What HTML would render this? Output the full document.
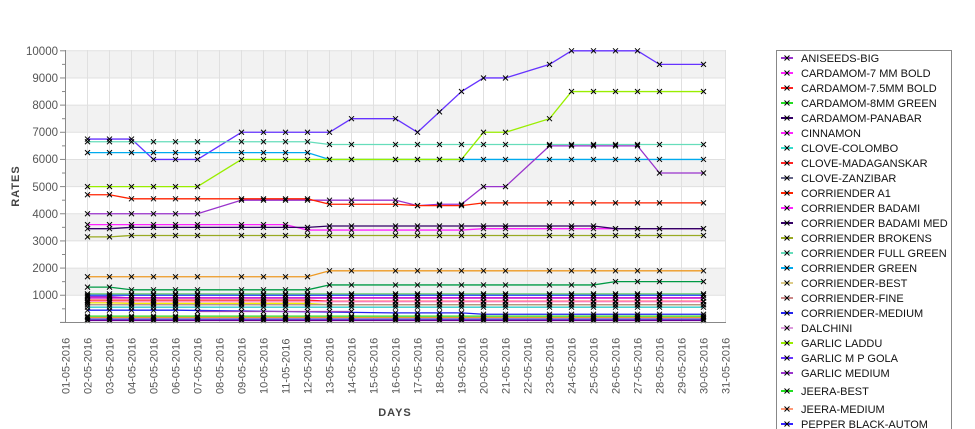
<!DOCTYPE html>
<html><head><meta charset="utf-8"><style>
html,body{margin:0;padding:0;background:#fff;width:975px;height:429px;overflow:hidden}
svg{display:block;font-family:"Liberation Sans","DejaVu Sans",sans-serif}
</style></head><body>
<svg id="s" width="975" height="429" viewBox="0 0 975 429" xmlns="http://www.w3.org/2000/svg">
<g id="bands"></g>
<g id="grid"></g>
<g id="lines"></g>
<g id="marks"></g>
<line x1="65.5" y1="50" x2="65.5" y2="323" stroke="#888"/>
<line x1="60" y1="322.5" x2="726" y2="322.5" stroke="#888"/>
<g font-size="11.5" fill="#555" text-anchor="end">
<text x="58" y="55">10000</text><text x="58" y="82">9000</text><text x="58" y="109">8000</text>
<text x="58" y="136">7000</text><text x="58" y="163">6000</text><text x="58" y="191">5000</text>
<text x="58" y="218">4000</text><text x="58" y="245">3000</text><text x="58" y="272">2000</text>
<text x="58" y="299">1000</text>
</g>
<text transform="translate(19,186) rotate(-90)" font-size="11" font-weight="bold" fill="#444" text-anchor="middle" letter-spacing="1">RATES</text>
<text x="395" y="416" font-size="11" font-weight="bold" fill="#444" text-anchor="middle" letter-spacing="1">DAYS</text>
<g font-size="11" fill="#555">
<text transform="translate(69.5,394) rotate(-90)">01-05-2016</text>
<text transform="translate(91.5,394) rotate(-90)">02-05-2016</text>
<text transform="translate(113.5,394) rotate(-90)">03-05-2016</text>
<text transform="translate(135.5,394) rotate(-90)">04-05-2016</text>
<text transform="translate(157.5,394) rotate(-90)">05-05-2016</text>
<text transform="translate(179.5,394) rotate(-90)">06-05-2016</text>
<text transform="translate(201.5,394) rotate(-90)">07-05-2016</text>
<text transform="translate(223.5,394) rotate(-90)">08-05-2016</text>
<text transform="translate(245.5,394) rotate(-90)">09-05-2016</text>
<text transform="translate(267.5,394) rotate(-90)">10-05-2016</text>
<text transform="translate(289.5,394) rotate(-90)">11-05-2016</text>
<text transform="translate(311.5,394) rotate(-90)">12-05-2016</text>
<text transform="translate(333.5,394) rotate(-90)">13-05-2016</text>
<text transform="translate(355.5,394) rotate(-90)">14-05-2016</text>
<text transform="translate(377.5,394) rotate(-90)">15-05-2016</text>
<text transform="translate(399.5,394) rotate(-90)">16-05-2016</text>
<text transform="translate(421.5,394) rotate(-90)">17-05-2016</text>
<text transform="translate(443.5,394) rotate(-90)">18-05-2016</text>
<text transform="translate(465.5,394) rotate(-90)">19-05-2016</text>
<text transform="translate(487.5,394) rotate(-90)">20-05-2016</text>
<text transform="translate(509.5,394) rotate(-90)">21-05-2016</text>
<text transform="translate(531.5,394) rotate(-90)">22-05-2016</text>
<text transform="translate(553.5,394) rotate(-90)">23-05-2016</text>
<text transform="translate(575.5,394) rotate(-90)">24-05-2016</text>
<text transform="translate(597.5,394) rotate(-90)">25-05-2016</text>
<text transform="translate(619.5,394) rotate(-90)">26-05-2016</text>
<text transform="translate(641.5,394) rotate(-90)">27-05-2016</text>
<text transform="translate(663.5,394) rotate(-90)">28-05-2016</text>
<text transform="translate(685.5,394) rotate(-90)">29-05-2016</text>
<text transform="translate(707.5,394) rotate(-90)">30-05-2016</text>
<text transform="translate(729.5,394) rotate(-90)">31-05-2016</text>
</g>
<path d="M776.5,429 V50.5 H951.5 V429" fill="#fff" stroke="#888"/>
<g id="leg"></g>
<g font-size="11" fill="#111">
<text x="801" y="62">ANISEEDS-BIG</text>
<text x="801" y="77">CARDAMOM-7 MM BOLD</text>
<text x="801" y="92">CARDAMOM-7.5MM BOLD</text>
<text x="801" y="107">CARDAMOM-8MM GREEN</text>
<text x="801" y="122">CARDAMOM-PANABAR</text>
<text x="801" y="137">CINNAMON</text>
<text x="801" y="152">CLOVE-COLOMBO</text>
<text x="801" y="167">CLOVE-MADAGANSKAR</text>
<text x="801" y="182">CLOVE-ZANZIBAR</text>
<text x="801" y="197">CORRIENDER A1</text>
<text x="801" y="212">CORRIENDER BADAMI</text>
<text x="801" y="227">CORRIENDER BADAMI MED</text>
<text x="801" y="242">CORRIENDER BROKENS</text>
<text x="801" y="257">CORRIENDER FULL GREEN</text>
<text x="801" y="272">CORRIENDER GREEN</text>
<text x="801" y="287">CORRIENDER-BEST</text>
<text x="801" y="302">CORRIENDER-FINE</text>
<text x="801" y="317">CORRIENDER-MEDIUM</text>
<text x="801" y="332">DALCHINI</text>
<text x="801" y="347">GARLIC LADDU</text>
<text x="801" y="362">GARLIC M P GOLA</text>
<text x="801" y="377">GARLIC MEDIUM</text>
<text x="801" y="395">JEERA-BEST</text>
<text x="801" y="413">JEERA-MEDIUM</text>
<text x="801" y="428">PEPPER BLACK-AUTOM</text>
</g>
</svg>
<script>
var NS="http://www.w3.org/2000/svg";
function el(p,t,a){var e=document.createElementNS(NS,t);for(var k in a)e.setAttribute(k,a[k]);document.getElementById(p).appendChild(e);return e;}
function X(d){return 65.5+(d-1)*22;}
function Y(v){return 322.4-v*0.02716;}
[[10000,9000],[8000,7000],[6000,5000],[4000,3000],[2000,1000]].forEach(function(b){el("bands","rect",{x:65.5,y:Y(b[0]),width:660,height:Y(b[1])-Y(b[0]),fill:"#f2f2f2"});});
for(var d=1;d<=31;d++)el("grid","line",{x1:X(d),y1:50,x2:X(d),y2:322,stroke:"#e0e0e0"});
for(var v=1000;v<=10000;v+=1000)el("grid","line",{x1:65.5,y1:Y(v),x2:726,y2:Y(v),stroke:"#e0e0e0"});
for(var v=0;v<=10000;v+=500)el("grid","line",{x1:v%1000?62:60,y1:Y(v),x2:65.5,y2:Y(v),stroke:"#888"});
var D=[2,3,4,5,6,7,9,10,11,12,13,14,16,17,18,19,20,21,23,24,25,26,27,28,30];
function S(col,f,days){days=days||D;var pts=days.map(function(d){return [X(d),Y(f(d))];});
el("lines","polyline",{points:pts.map(function(p){return p.join(",")}).join(" "),fill:"none",stroke:col,"stroke-width":1.3});
pts.forEach(function(p){el("marks","path",{d:"M"+(p[0]-2.5)+","+(p[1]-2.5)+"l5,5M"+(p[0]+2.5)+","+(p[1]-2.5)+"l-5,5",stroke:"#000","stroke-width":1});});}
function M(o){return function(d){var r;for(var k in o){if(d>=+k)r=o[k];}return r;};}
S("#6633ff",M({2:6750,5:6000,9:7000,14:7500,17:7000,18:7750,19:8500,20:9000,23:9500,24:10000,28:9500}));
S("#66ddbb",M({2:6650,13:6550}));
S("#00aaee",M({2:6250,13:6000}));
S("#99ee00",M({2:5000,9:6000,20:7000,23:7500,24:8500}));
S("#9933cc",M({2:4000,9:4500,17:4300,18:4350,20:5000,23:6500,28:5500}));
S("#ff2200",M({2:4700,4:4550,13:4350,17:4300,20:4400}));
S("#ff22ff",M({2:3600,12:3400,20:3450}));
S("#330066",M({2:3450,4:3500,13:3550,26:3450}));
S("#99aa22",M({2:3150,4:3200}));
S("#ee9922",M({2:1680,13:1900}));
S("#009944",M({2:1300,4:1200,13:1380,26:1500}));
S("#66cc66",M({2:1050}));
S("#2244ff",M({2:1000}));
S("#9933cc",M({2:950,4:900}));
S("#cc00cc",M({2:900}));
S("#ff2222",M({2:820,13:780}));
S("#ff88cc",M({2:760}));
S("#eeee00",M({2:720,4:700,13:650}));
S("#aa8888",M({2:650}));
S("#33cccc",M({2:560}));
S("#2222ee",M({2:450,16:350,20:300}),[2,3,4,5,6,16,17,18,19,20,21,23,24,25,26,27,28,30]);
S("#9944bb",M({2:400}),[7,9,10,11,12,13,14]);
S("#22dd22",M({2:230}));
S("#ee9933",M({2:180}));
S("#3322cc",M({2:120}));
S("#660099",M({2:70}));
var lc=["#9933cc","#ff22ff","#ff2222","#22dd22","#330066","#ff22ff","#33ddcc","#ff2222","#666688","#ff2200","#ff22ff","#330066","#99aa22","#66ddbb","#00aaee","#ddcc88","#cc8888","#2222ee","#dd99dd","#99ee00","#6633ff","#9933cc","#22dd22","#ff9977","#3322ff"];
var ly=[58,73,88,103,118,133,148,163,178,193,208,223,238,253,268,283,298,313,328,343,358,373,391,409,424];
lc.forEach(function(c,i){var y=ly[i];el("leg","line",{x1:781,y1:y,x2:793,y2:y,stroke:c,"stroke-width":2});
el("leg","path",{d:"M784.5,"+(y-2.5)+"l5,5M789.5,"+(y-2.5)+"l-5,5",stroke:"#000","stroke-width":1});});
</script>
</body></html>
